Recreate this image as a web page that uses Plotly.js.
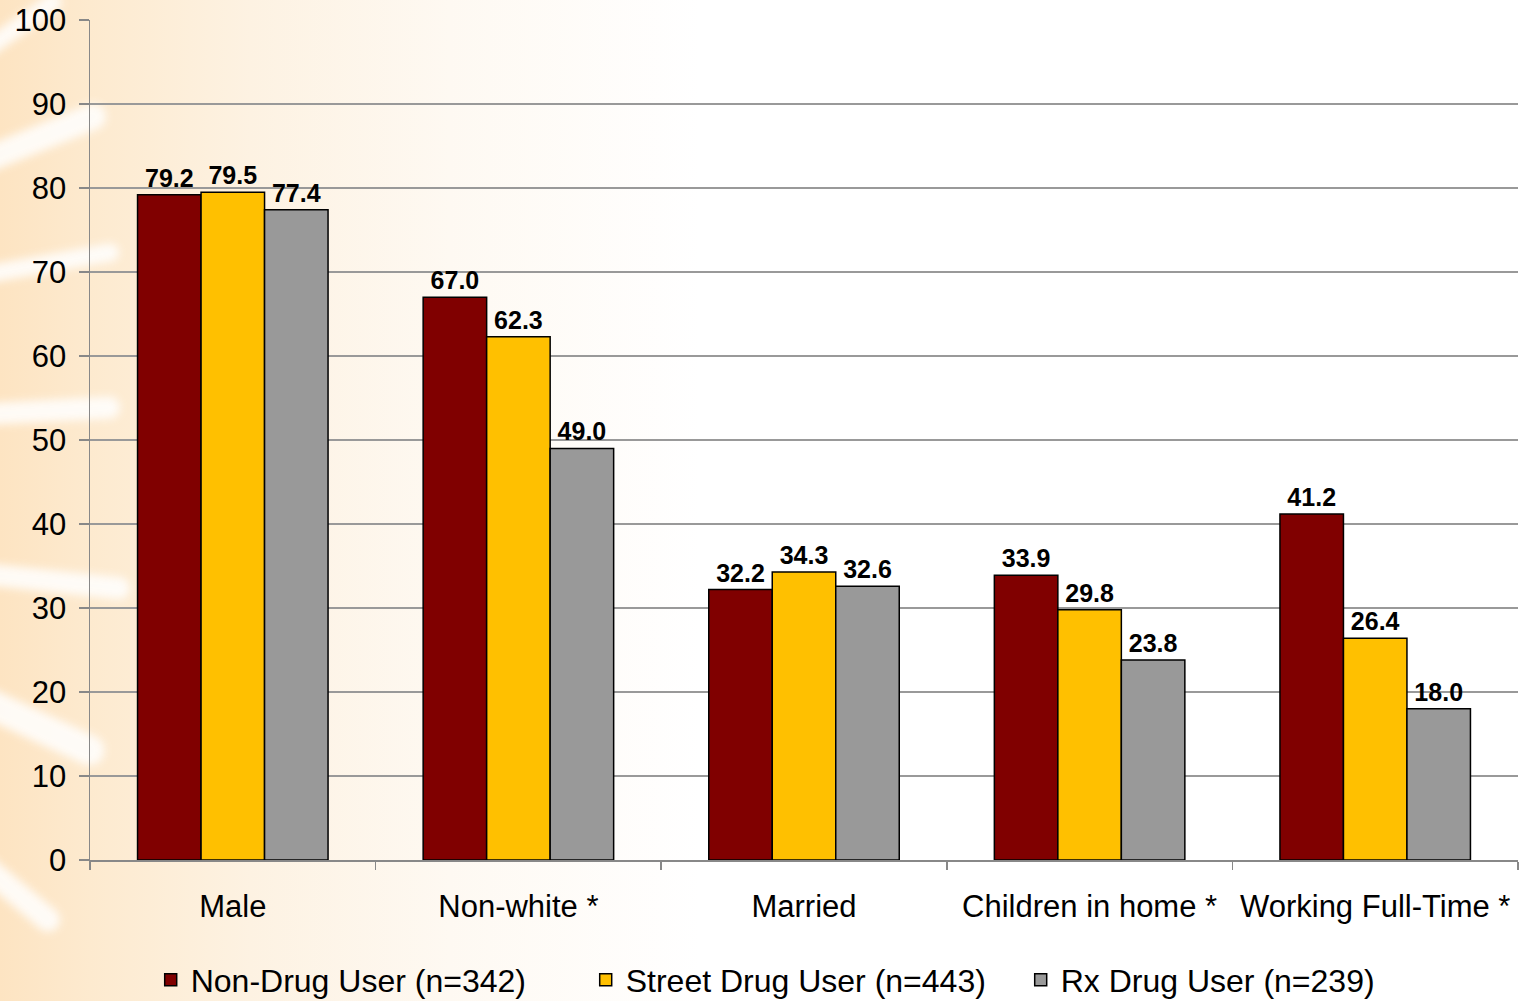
<!DOCTYPE html>
<html>
<head>
<meta charset="utf-8">
<script src="https://cdn.plot.ly/plotly-3.0.1.min.js"></script>
<style>
html,body{margin:0;padding:0;width:1527px;height:1001px;overflow:hidden;position:relative;
background:linear-gradient(to right,#fde4c2 0px,#fdeacf 90px,#fdf2e2 250px,#fef9f2 450px,#ffffff 700px);}
#chart{position:absolute;left:0;top:0;width:1527px;height:1001px;}
.streak{position:absolute;background:#ffffff;border-radius:30px;filter:blur(4px);opacity:0.85;}
</style>
</head>
<body>
<div class="streak" style="left:-40px;top:20px;width:110px;height:18px;transform:rotate(-35deg);"></div>
<div class="streak" style="left:-30px;top:125px;width:140px;height:26px;transform:rotate(-22deg);"></div>
<div class="streak" style="left:-30px;top:255px;width:150px;height:18px;transform:rotate(-10deg);"></div>
<div class="streak" style="left:-30px;top:400px;width:150px;height:22px;transform:rotate(-3deg);"></div>
<div class="streak" style="left:-30px;top:570px;width:160px;height:22px;transform:rotate(6deg);"></div>
<div class="streak" style="left:-40px;top:710px;width:150px;height:30px;transform:rotate(25deg);"></div>
<div class="streak" style="left:-40px;top:880px;width:110px;height:24px;transform:rotate(40deg);"></div>
<div id="chart"></div>
<script>
const categories = ["Male", "Non-white *", "Married", "Children in home *", "Working Full-Time *"];
const seriesNames = ["Non-Drug User (n=342)", "Street Drug User (n=443)", "Rx Drug User (n=239)"];
const nonDrug = [79.2, 67.0, 32.2, 33.9, 41.2];
const streetDrug = [79.5, 62.3, 34.3, 29.8, 26.4];
const rxDrug = [77.4, 49.0, 32.6, 23.8, 18.0];
const colors = ["#800000", "#FFC000", "#999999"];

const allValues = [nonDrug, streetDrug, rxDrug];
const traces = allValues.map((vals, i) => ({
  type: "bar",
  name: seriesNames[i],
  x: categories,
  y: vals,
  marker: {color: colors[i], line: {color: "#000000", width: 1.5}},
  texttemplate: "%{y:.1f}",
  textposition: "outside",
  cliponaxis: false,
  textfont: {family: "Liberation Sans, Arial, sans-serif", size: 25, color: "#000000", weight: "bold"},
  hoverinfo: "skip"
}));

const layout = {
  width: 1527, height: 1001,
  paper_bgcolor: "rgba(0,0,0,0)",
  plot_bgcolor: "rgba(0,0,0,0)",
  margin: {l: 90, r: 9, t: 20, b: 141},
  barmode: "group",
  bargap: 0.333,
  bargroupgap: 0,
  font: {family: "Liberation Sans, Arial, sans-serif", color: "#000000"},
  xaxis: {
    type: "category",
    tickson: "boundaries",
    ticks: "outside", ticklen: 8, tickcolor: "#888888", tickwidth: 1.5,
    showline: true, linecolor: "#888888", linewidth: 1.5,
    showgrid: false,
    tickfont: {size: 31},
    ticklabelstandoff: 18,
    automargin: false
  },
  yaxis: {
    range: [0, 100], dtick: 10,
    ticks: "outside", ticklen: 10, tickcolor: "#888888", tickwidth: 1.5,
    showline: true, linecolor: "#888888", linewidth: 1.5,
    showgrid: true, gridcolor: "#999999", gridwidth: 1.5,
    zeroline: false,
    tickfont: {size: 31},
    ticklabelstandoff: 6,
    automargin: false
  },
  showlegend: true,
  legend: {
    orientation: "h", x: 0.526, xref: "container", xanchor: "center",
    y: 0.021, yref: "container", yanchor: "middle",
    font: {size: 32}, bgcolor: "rgba(0,0,0,0)",
    traceorder: "normal",
    entrywidth: 390, entrywidthmode: "pixels"
  }
};

Plotly.newPlot("chart", traces, layout, {displayModeBar: false, staticPlot: true});
</script>
</body>
</html>
